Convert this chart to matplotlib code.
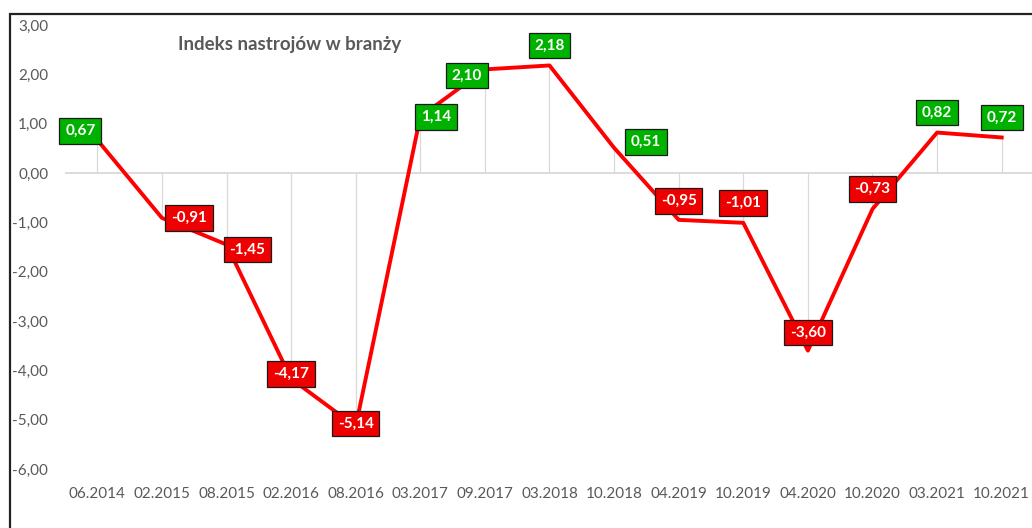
import matplotlib.pyplot as plt
from matplotlib.patches import Rectangle
from matplotlib.ticker import FuncFormatter

plt.rcParams['font.family'] = ['Lato', 'DejaVu Sans']

# data
periods = ['06.2014', '02.2015', '08.2015', '02.2016', '08.2016', '03.2017',
           '09.2017', '03.2018', '10.2018', '04.2019', '10.2019', '04.2020',
           '10.2020', '03.2021', '10.2021']
index_values = [0.67, -0.91, -1.45, -4.17, -5.14, 1.14, 2.10, 2.18, 0.51,
                -0.95, -1.01, -3.60, -0.73, 0.82, 0.72]

# label offsets from the point, in pixels (dx, dy up)
label_offsets = [(-17, 9), (27, 0), (21, -5), (0, 5), (0, 3), (16, 0),
                 (-18, -6), (0, 20), (32, 6), (0, 19), (0, 20), (0, 18),
                 (0, 20), (0, 20), (0, 20)]

W, H = 1032, 528
fig = plt.figure(figsize=(W / 100, H / 100), dpi=100)
ax = fig.add_axes([65 / W, 59 / H, 969 / W, 444 / H])

x = list(range(len(periods)))

# zero line and drop lines
ax.axhline(0, color='#d9d9d9', lw=1.3, zorder=1)
ax.vlines(x, 0, index_values, color='#d9d9d9', lw=0.9, zorder=1)

ax.plot(x, index_values, color='#ff0000', lw=2.8, zorder=3,
        solid_joinstyle='round')

for i, v in enumerate(index_values):
    dx, dy = label_offsets[i]
    fc = '#00b200' if v >= 0 else '#ee0000'
    txt = ('%.2f' % v).replace('.', ',')
    ax.annotate(txt, (i, v), xytext=(dx * 0.72, dy * 0.72),
                textcoords='offset points', ha='center', va='center',
                color='white', fontsize=11, fontweight='bold', zorder=5,
                bbox=dict(boxstyle='square,pad=0.38', fc=fc, ec='#1a1a1a',
                          lw=0.9))

ax.set_xlim(-0.5, len(periods) - 0.5)
ax.set_ylim(-6, 3)
ax.set_yticks(range(-6, 4))
ax.yaxis.set_major_formatter(FuncFormatter(lambda v, p: ('%.2f' % v).replace('.', ',')))
ax.set_xticks(x)
ax.set_xticklabels(periods)
ax.tick_params(axis='both', length=0, labelsize=11, colors='#595959')
ax.tick_params(axis='x', pad=13)
ax.tick_params(axis='y', pad=12)
for s in ax.spines.values():
    s.set_visible(False)

ax.text(0.117, 0.955, 'Indeks nastrojów w branży', transform=ax.transAxes,
        fontsize=13.5, fontweight='bold', color='#595959', va='center')

# outer chart frame (cropped at right/bottom)
fig.patches.append(Rectangle((10 / W, -0.1), 1.2, (H - 14) / H + 0.1,
                             transform=fig.transFigure, fill=False,
                             ec='#222222', lw=1.6))

fig.savefig('out.png', dpi=100)
